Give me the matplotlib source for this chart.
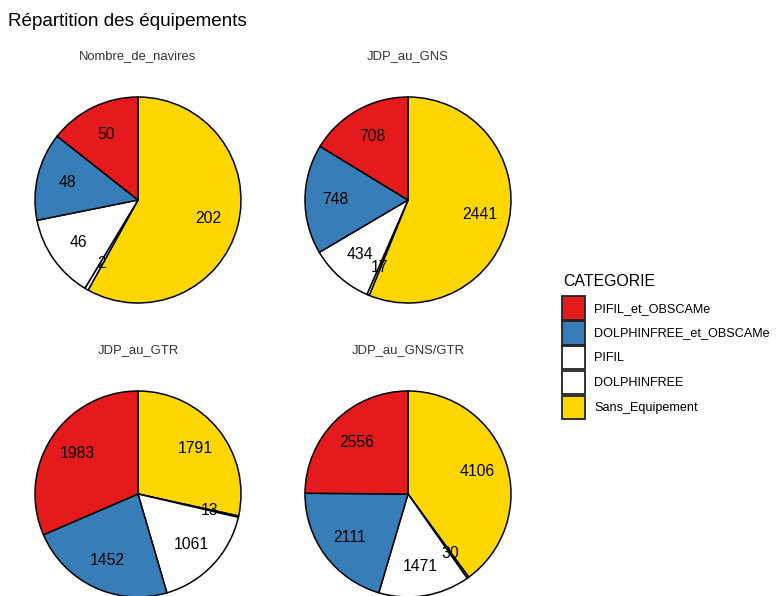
import numpy as np
import matplotlib
matplotlib.use("Agg")
import matplotlib.pyplot as plt
from matplotlib.patches import Patch

plt.rcParams['font.family'] = ['Liberation Sans', 'DejaVu Sans']

# données
categories = ['PIFIL_et_OBSCAMe', 'DOLPHINFREE_et_OBSCAMe', 'PIFIL', 'DOLPHINFREE', 'Sans_Equipement']
couleurs = ['#E41A1C', '#377EB8', '#FFFFFF', '#FFFFFF', '#FFD700']
panneaux = ['Nombre_de_navires', 'JDP_au_GNS', 'JDP_au_GTR', 'JDP_au_GNS/GTR']
nb_navires = [50, 48, 46, 2, 202]
jdp_gns = [708, 748, 434, 17, 2441]
jdp_gtr = [1983, 1452, 1061, 13, 1791]
jdp_gns_gtr = [2556, 2111, 1471, 30, 4106]
valeurs = [nb_navires, jdp_gns, jdp_gtr, jdp_gns_gtr]

W, H = 777, 596
fig = plt.figure(figsize=(W / 100, H / 100), dpi=100)

# centres des camemberts (pixels)
centres = [(138, 200), (408, 200), (138, 494), (408, 494)]
R = 103

for nom, vals, (cx, cy) in zip(panneaux, valeurs, centres):
    ax = fig.add_axes([(cx - R) / W, (H - cy - R) / H, 2 * R / W, 2 * R / H])
    # ordre ggplot : dernier niveau en premier, sens horaire depuis midi
    v = vals[::-1]
    c = couleurs[::-1]
    ax.pie(v, colors=c, startangle=90, counterclock=False, radius=1,
           wedgeprops=dict(edgecolor='black', linewidth=1.1))
    tot = sum(v)
    cum = np.cumsum(v) - np.array(v) / 2
    for val, m in zip(v, cum):
        ang = np.pi / 2 - 2 * np.pi * m / tot
        ax.text(0.71 * np.cos(ang), 0.71 * np.sin(ang), str(val),
                ha='center', va='center', fontsize=11.3, color='black')
    ax.set_xlim(-1, 1)
    ax.set_ylim(-1, 1)
    ax.axis('off')
    fig.text(cx / W, 1 - (cy - 144) / H, nom, ha='center', va='center',
             fontsize=9.4, color='#333333')

fig.text(8 / W, 1 - 21 / H, 'Répartition des équipements', ha='left', va='center',
         fontsize=13.6, color='black')

# légende
fig.text(563 / W, 1 - 281 / H, 'CATEGORIE', ha='left', va='center', fontsize=11.4)
handles = [Patch(facecolor=col, edgecolor='#222222', linewidth=1.3) for col in couleurs]
leg = fig.legend(handles, categories, loc='upper left', bbox_to_anchor=(562 / W, 1 - 296 / H),
                 frameon=False, fontsize=9.1,
                 handlelength=1.8, handleheight=2.5, labelspacing=0.1,
                 handletextpad=0.75, borderpad=0, borderaxespad=0)

fig.savefig('out.png', dpi=100)
